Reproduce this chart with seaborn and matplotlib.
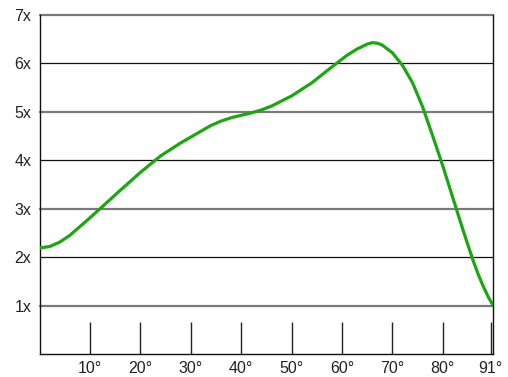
import matplotlib
matplotlib.use("Agg")
import matplotlib.pyplot as plt
import seaborn as sns
import pandas as pd

angle = [0, 2, 4, 6, 9, 12, 16, 20, 24, 28, 31, 34, 36, 38, 40, 42, 44, 46, 50, 54, 58, 61, 63, 65, 66, 67, 68, 70, 72, 74, 76, 78, 80, 82, 84, 86, 87, 88, 89, 90]
factor = [2.19, 2.22, 2.31, 2.45, 2.72, 3.0, 3.38, 3.75, 4.09, 4.36, 4.54, 4.72, 4.81, 4.88, 4.93, 4.98, 5.04, 5.12, 5.33, 5.6, 5.93, 6.17, 6.3, 6.4, 6.43, 6.42, 6.38, 6.22, 5.96, 5.6, 5.1, 4.5, 3.88, 3.22, 2.56, 1.93, 1.65, 1.4, 1.18, 1.0]

x_ticks = [10, 20, 30, 40, 50, 60, 70, 80, 89.5]
x_labels = ["10°", "20°", "30°", "40°", "50°", "60°", "70°", "80°", "91°"]
y_ticks = [1, 2, 3, 4, 5, 6, 7]
y_labels = ["1x", "2x", "3x", "4x", "5x", "6x", "7x"]

df = pd.DataFrame({"angle": angle, "factor": factor})

sns.set_style("white")
plt.rcParams["font.family"] = ["Liberation Sans", "DejaVu Sans"]

fig = plt.figure(figsize=(5.08, 3.77), dpi=100)
ax = fig.add_axes([0.0778, 0.061, 0.8932, 0.899])

for yv in y_ticks:
    if yv % 2 == 1:
        ax.axhline(yv, color="#7a7a7a", lw=1.6, zorder=1, clip_on=False)
    else:
        ax.axhline(yv, color="#111111", lw=0.9, zorder=1, clip_on=False)

sns.lineplot(data=df, x="angle", y="factor", ax=ax, color="#1ea514", lw=2.3, zorder=3)

ax.set_xlim(0, 90)
ax.set_ylim(0, 7)
ax.set_xticks(x_ticks)
ax.set_xticklabels(x_labels, fontsize=11.5, color="#222222")
ax.set_yticks(y_ticks)
ax.set_yticklabels(y_labels, fontsize=11.5, color="#222222")
ax.tick_params(axis="x", bottom=True, direction="in", length=23, width=1, color="#222222", pad=5)
ax.tick_params(axis="y", left=False, length=0, pad=6)
ax.set_xlabel("")
ax.set_ylabel("")

ax.spines["top"].set_visible(False)
for s in ["left", "bottom", "right"]:
    ax.spines[s].set_visible(True)
    ax.spines[s].set_color("#111111")
    ax.spines[s].set_linewidth(1.0)

fig.savefig("out.png", dpi=100)
